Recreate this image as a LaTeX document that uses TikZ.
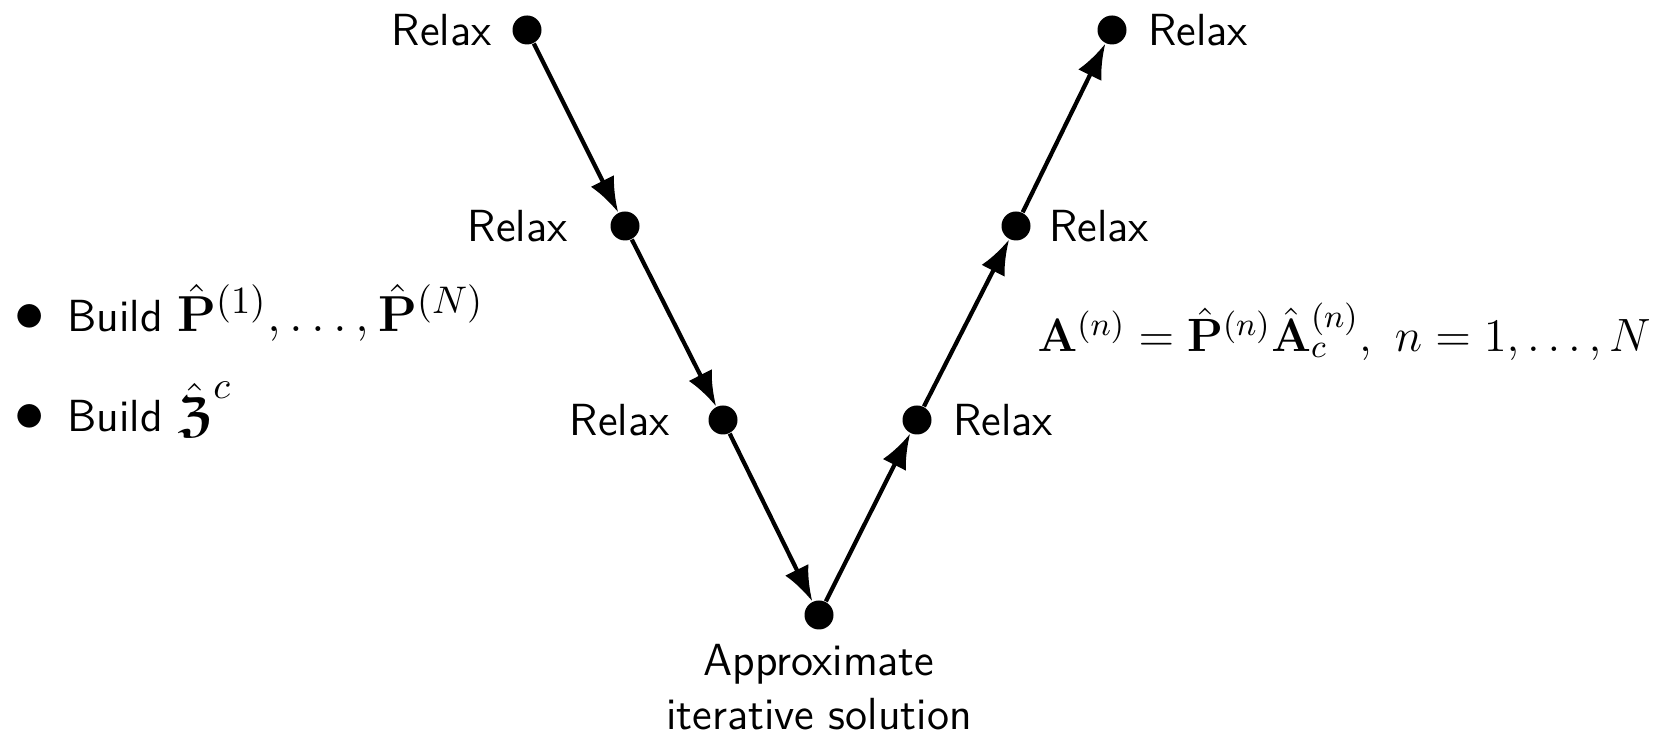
\RequirePackage{fix-cm}
\documentclass[tikz,border=0pt]{standalone}
\usepackage{amsmath,amssymb}
\usetikzlibrary{arrows.meta}
\DeclareMathSizes{12.8}{14.4}{10.95}{8}
\newcommand{\vfont}{\sffamily\fontsize{12.8}{15.4}\selectfont}
\newcommand{\vbullet}{{\fontsize{17.28}{17.28}\selectfont$\bullet$}\hspace{0.5em}}
\begin{document}
\begin{tikzpicture}[
	dot/.style={circle, fill=black, inner sep=0pt, minimum size=0.29cm},
	every label/.style={font=\vfont},
	vline/.style={line width=1.2pt, -{Latex[length=0.35cm,width=0.26cm]}}
	]
	\useasboundingbox (0,0) rectangle (16.68,7.46);
	
	% Down leg
	\node[dot, label={[label distance=0.08cm]left:Relax}] (r1) at (5.27,7.16) {};
	\node[dot, label={[label distance=0.30cm]left:Relax}] (r2) at (6.25,5.20) {};
	\node[dot, label={[label distance=0.26cm]left:Relax}] (r3) at (7.23,3.26) {};
	
	% Bottom
	\node[dot, label={[label distance=0.02cm, align=center]below:{Approximate\\iterative solution}}] (sol) at (8.19,1.31) {};
	
	% Up leg
	\node[dot, label={[label distance=0.09cm]right:Relax}] (r4) at (9.17,3.26) {};
	\node[dot, label={[label distance=0.06cm]right:Relax}] (r5) at (10.16,5.20) {};
	\node[dot, label={[label distance=0.09cm]right:Relax}] (r6) at (11.12,7.16) {};
	
	\draw[vline] (r1) -- (r2);
	\draw[vline] (r2) -- (r3);
	\draw[vline] (r3) -- (sol);
	\draw[vline] (sol) -- (r4);
	\draw[vline] (r4) -- (r5);
	\draw[vline] (r5) -- (r6);
	
	% Setup steps
	\node[anchor=base west, inner sep=0pt, font=\vfont] (build1) at (0.14,4.14)
	{\vbullet Build $\hat{\mathbf{P}}^{(1)},\ldots,\hat{\mathbf{P}}^{(N)}$};
	\node[anchor=base west, inner sep=0pt, font=\vfont] (build2) at (0.14,3.14)
	{\vbullet Build $\hat{\boldsymbol{\mathfrak{Z}}}^{c}$};
	
	% Interpolation
	\node[anchor=base west, inner sep=0pt, font=\fontsize{13.3}{16}\selectfont] (interp) at (10.37,3.94)
	{$\mathbf{A}^{(n)}=\hat{\mathbf{P}}^{(n)}\hat{\mathbf{A}}_c^{(n)},\ n=1,\ldots,N$};
	
\end{tikzpicture}
\end{document}
